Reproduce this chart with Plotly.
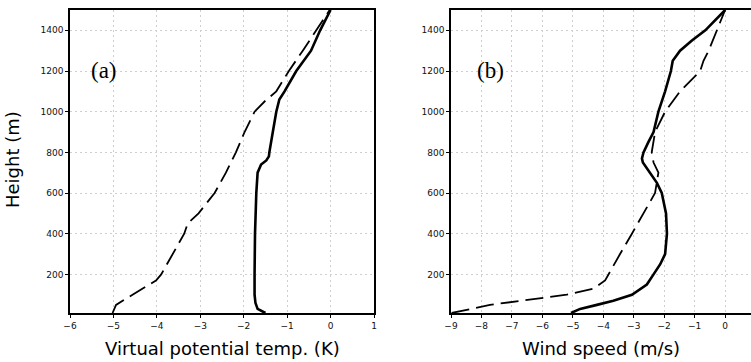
import plotly.graph_objects as go

# Panel (a): virtual potential temperature
h_a_solid = [10, 30, 60, 100, 200, 400, 600, 700, 740, 760, 780, 800, 900, 960, 1000, 1060, 1100, 1200, 1300, 1400, 1500]
vpt_solid = [-1.50, -1.68, -1.73, -1.75, -1.75, -1.74, -1.71, -1.68, -1.60, -1.48, -1.42, -1.41, -1.33, -1.29, -1.25, -1.18, -1.06, -0.79, -0.45, -0.24, 0.0]
h_a_dash = [10, 50, 100, 150, 170, 200, 300, 400, 450, 500, 600, 700, 800, 900, 1000, 1050, 1100, 1200, 1300, 1400, 1500]
vpt_dash = [-5.02, -4.94, -4.56, -4.17, -4.02, -3.90, -3.63, -3.37, -3.29, -3.04, -2.67, -2.41, -2.18, -1.98, -1.75, -1.52, -1.25, -0.96, -0.64, -0.33, -0.02]

# Panel (b): wind speed
h_b_solid = [10, 30, 50, 70, 100, 150, 200, 250, 300, 400, 500, 600, 650, 700, 750, 770, 800, 850, 900, 1000, 1050, 1100, 1200, 1250, 1300, 1350, 1400, 1450, 1500]
ws_solid = [-5.06, -4.76, -4.21, -3.67, -3.06, -2.57, -2.35, -2.13, -1.97, -1.91, -1.94, -2.08, -2.24, -2.46, -2.70, -2.73, -2.68, -2.52, -2.35, -2.19, -2.08, -1.97, -1.78, -1.72, -1.48, -1.09, -0.65, -0.33, 0.0]
h_b_dash = [10, 50, 100, 130, 170, 200, 300, 400, 500, 600, 700, 750, 800, 900, 1000, 1100, 1200, 1250, 1300, 1400, 1500]
ws_dash = [-8.98, -7.72, -5.20, -4.32, -3.94, -3.83, -3.45, -3.06, -2.68, -2.30, -2.19, -2.35, -2.41, -2.30, -1.97, -1.48, -0.82, -0.71, -0.54, -0.27, 0.0]

y_ticks = [200, 400, 600, 800, 1000, 1200, 1400]
x_ticks_a = [-6, -5, -4, -3, -2, -1, 0, 1]
x_ticks_b = [-9, -8, -7, -6, -5, -4, -3, -2, -1, 0]

fig = go.Figure()
fig.add_trace(go.Scatter(x=vpt_solid, y=h_a_solid, mode="lines", line=dict(color="black", width=2.6), xaxis="x", yaxis="y"))
fig.add_trace(go.Scatter(x=vpt_dash, y=h_a_dash, mode="lines", line=dict(color="black", width=1.8, dash="18px,7px"), xaxis="x", yaxis="y"))
fig.add_trace(go.Scatter(x=ws_solid, y=h_b_solid, mode="lines", line=dict(color="black", width=2.6), xaxis="x2", yaxis="y2"))
fig.add_trace(go.Scatter(x=ws_dash, y=h_b_dash, mode="lines", line=dict(color="black", width=1.8, dash="18px,7px"), xaxis="x2", yaxis="y2"))

tickfont = dict(family="DejaVu Sans", size=9, color="#111")
common_x = dict(showline=True, linecolor="black", linewidth=1.5, mirror=True, ticks="outside", ticklen=3,
                tickcolor="black", showgrid=True, gridcolor="#cfcfcf", griddash="2px,3px", gridwidth=1,
                zeroline=False, tickfont=tickfont, automargin=False)
common_y = dict(common_x, range=[10, 1500], tickvals=y_ticks)

title_font = dict(family="DejaVu Sans", size=18, color="black")

fig.update_layout(
    width=751, height=362,
    margin=dict(l=0, r=0, t=0, b=0, autoexpand=False),
    paper_bgcolor="white", plot_bgcolor="white",
    showlegend=False,
    xaxis=dict(common_x, domain=[70/751, 374/751], range=[-6, 1], tickvals=x_ticks_a, anchor="y"),
    yaxis=dict(common_y, domain=[1-313/362, 1-10/362], anchor="x"),
    xaxis2=dict(common_x, domain=[451/751, 1.0], range=[-9, 0.85], tickvals=x_ticks_b, anchor="y2"),
    yaxis2=dict(common_y, domain=[1-313/362, 1-10/362], anchor="x2"),
    annotations=[
        dict(text="Virtual potential temp. (K)", x=222/751, y=1-348/362, xref="paper", yref="paper",
             showarrow=False, font=title_font, xanchor="center", yanchor="middle"),
        dict(text="Wind speed (m/s)", x=601/751, y=1-348/362, xref="paper", yref="paper",
             showarrow=False, font=title_font, xanchor="center", yanchor="middle"),
        dict(text="Height (m)", x=12/751, y=1-160/362, xref="paper", yref="paper", textangle=-90,
             showarrow=False, font=title_font, xanchor="center", yanchor="middle"),
        dict(text="(a)", x=104/751, y=1-70/362, xref="paper", yref="paper",
             showarrow=False, font=dict(family="Liberation Serif", size=23, color="black"), xanchor="center", yanchor="middle"),
        dict(text="(b)", x=490/751, y=1-70/362, xref="paper", yref="paper",
             showarrow=False, font=dict(family="Liberation Serif", size=23, color="black"), xanchor="center", yanchor="middle"),
    ],
)

fig.write_html("out.html", config={"displayModeBar": False},
               post_script="document.body.style.margin='0';document.body.style.overflow='hidden';")
